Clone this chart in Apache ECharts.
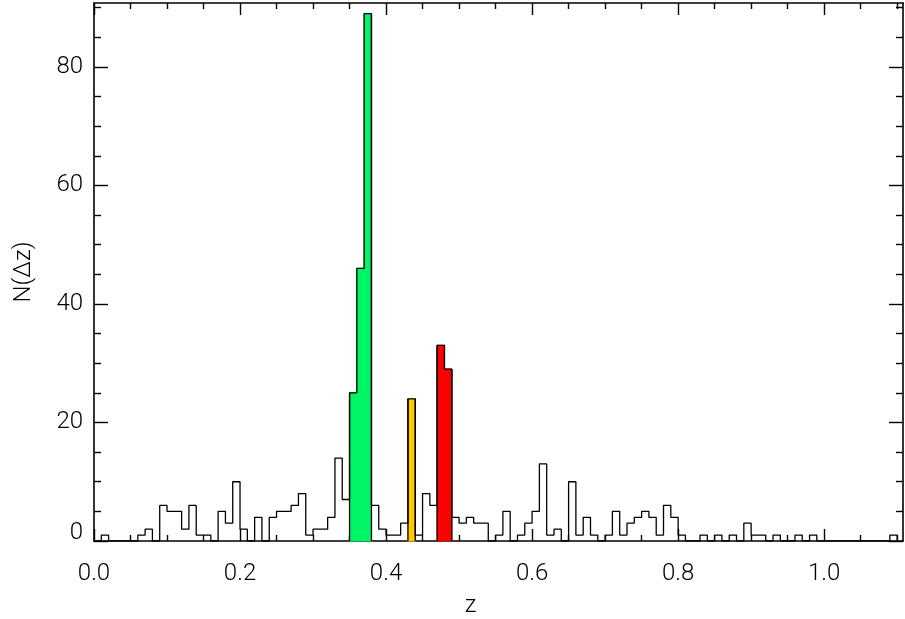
<!DOCTYPE html>
<html>
<head>
<meta charset="utf-8">
<script src="https://cdn.jsdelivr.net/npm/echarts@6/dist/echarts.min.js"></script>
<style>
html,body{margin:0;padding:0;background:#fff;}
#chart{width:905px;height:619px;}
</style>
</head>
<body>
<div id="chart"></div>
<script>
// ---- data ----
const binStep = 0.01;                 // histogram bin width in z
const counts = [
  0, 1, 0, 0, 0, 0, 1, 2, 0, 6,
  5, 5, 2, 6, 1, 1, 0, 5, 3, 10,
  2, 0, 4, 0, 4, 5, 5, 6, 8, 1,
  2, 2, 4, 14, 7, 25, 46, 89, 6, 2,
  1, 1, 3, 24, 1, 8, 6, 33, 29, 4,
  3, 4, 3, 3, 0, 1, 5, 0, 1, 3,
  5, 13, 1, 2, 0, 10, 1, 4, 1, 0,
  1, 5, 1, 3, 4, 5, 4, 1, 6, 4,
  1, 0, 0, 1, 0, 1, 0, 1, 0, 3,
  1, 1, 0, 1, 0, 0, 1, 0, 1, 0,
  0, 0, 0, 0, 0, 0, 0, 0, 0, 1
];
const greenBins  = [35, 36, 37];      // bin indices filled green
const orangeBins = [43];              // bin indices filled orange
const redBins    = [47, 48];          // bin indices filled red
const xMajorTicks = [0, 0.2, 0.4, 0.6, 0.8, 1.0];
const xMinorTicks = [0.05, 0.1, 0.15, 0.25, 0.3, 0.35, 0.45, 0.5, 0.55, 0.65, 0.7, 0.75, 0.85, 0.9, 0.95, 1.05, 1.1];
const yMajorTicks = [0, 20, 40, 60, 80];
const yMinorTicks = [5, 10, 15, 25, 30, 35, 45, 50, 55, 65, 70, 75, 85, 90];
const xRange = [0, 1.108];
const yRange = [0, 90.8];
const xTitle = 'z';
const yTitle = 'N(\u0394z)';

// ---- build ----
const edge = k => Math.round(k * binStep * 1000) / 1000;
const stepData = counts.map((c, k) => [edge(k), c]);
stepData.push([edge(counts.length), 0]);
const fillData = bins => bins.map(k => [edge(k), edge(k + 1), counts[k]]);

const FONT = 'Roboto, "DejaVu Sans", sans-serif';
const AX = {color: '#000', width: 1.6};
const gridRect = {left: 94, right: 2, top: 3, bottom: 78, containLabel: false, outerBoundsMode: 'none'};

function xAx(gridIndex, position, ticks, len, labels, withLine) {
  return {
    type: 'value', gridIndex, position, min: xRange[0], max: xRange[1],
    axisLine: {show: withLine, onZero: false, lineStyle: AX},
    axisTick: {show: true, inside: true, length: len, customValues: ticks, lineStyle: {color: '#000', width: 1.4}},
    axisLabel: labels ? {
      show: true, customValues: ticks, margin: 21, color: '#000', fontSize: 24,
      fontFamily: FONT, fontWeight: 300, formatter: v => v.toFixed(1)
    } : {show: false},
    splitLine: {show: false},
    name: labels ? xTitle : '', nameLocation: 'middle', nameGap: 53,
    nameTextStyle: {color: '#000', fontSize: 24, fontFamily: FONT, fontWeight: 300, padding: [0, 56, 0, 0]}
  };
}
function yAx(gridIndex, position, ticks, len, labels, withLine) {
  return {
    type: 'value', gridIndex, position, min: yRange[0], max: yRange[1],
    axisLine: {show: withLine, onZero: false, lineStyle: AX},
    axisTick: {show: true, inside: true, length: len, customValues: ticks, lineStyle: {color: '#000', width: 1.4}},
    axisLabel: labels ? {
      show: true, customValues: ticks, margin: 11, color: '#000', fontSize: 24,
      fontFamily: FONT, fontWeight: 300,
      formatter: v => v === 0 ? '{z|0}' : String(v),
      rich: {z: {fontSize: 24, fontFamily: FONT, fontWeight: 300, color: '#000', padding: [0, 0, 16, 0]}}
    } : {show: false},
    splitLine: {show: false},
    name: labels ? yTitle : '', nameLocation: 'middle', nameGap: 58, nameRotate: 90,
    nameTextStyle: {color: '#000', fontSize: 24, fontFamily: FONT, fontWeight: 300}
  };
}

function fillSeries(bins, color) {
  const last = bins.length - 1;
  return {
    type: 'custom', xAxisIndex: 0, yAxisIndex: 0, z: 2,
    data: fillData(bins),
    encode: {x: [0, 1], y: 2},
    renderItem: (params, api) => {
      const p0 = api.coord([api.value(0), 0]);
      const p1 = api.coord([api.value(1), api.value(2)]);
      const children = [{type: 'rect',
        shape: {x: p0[0], y: p1[1], width: p1[0] - p0[0], height: p0[1] - p1[1]},
        style: {fill: color, stroke: color, lineWidth: 1.2}}];
      const edgeStyle = {stroke: '#000', lineWidth: 1.3};
      if (params.dataIndex === 0) {
        children.push({type: 'line', z2: 5, shape: {x1: p0[0], y1: p0[1], x2: p0[0], y2: p1[1]}, style: edgeStyle});
      }
      if (params.dataIndex === last) {
        children.push({type: 'line', z2: 5, shape: {x1: p1[0], y1: p0[1], x2: p1[0], y2: p1[1]}, style: edgeStyle});
      }
      return {type: 'group', children};
    }
  };
}

const option = {
  backgroundColor: '#fff',
  animation: false,
  grid: [Object.assign({}, gridRect), Object.assign({}, gridRect)],
  xAxis: [
    xAx(0, 'bottom', xMajorTicks, 12, true, true),
    xAx(0, 'top', xMajorTicks, 12, false, true),
    xAx(1, 'bottom', xMinorTicks, 6, false, false),
    xAx(1, 'top', xMinorTicks, 6, false, false)
  ],
  yAxis: [
    yAx(0, 'left', yMajorTicks, 14, true, true),
    yAx(0, 'right', yMajorTicks, 14, false, true),
    yAx(1, 'left', yMinorTicks, 7, false, false),
    yAx(1, 'right', yMinorTicks, 7, false, false)
  ],
  series: [
    fillSeries(greenBins, '#00f564'),
    fillSeries(orangeBins, '#ffc800'),
    fillSeries(redBins, '#ff0000'),
    {
      type: 'line', xAxisIndex: 0, yAxisIndex: 0, z: 3,
      data: stepData, step: 'end', symbol: 'none', silent: true,
      lineStyle: {color: '#000', width: 1.3}
    }
  ]
};
echarts.init(document.getElementById('chart')).setOption(option);
</script>
</body>
</html>
